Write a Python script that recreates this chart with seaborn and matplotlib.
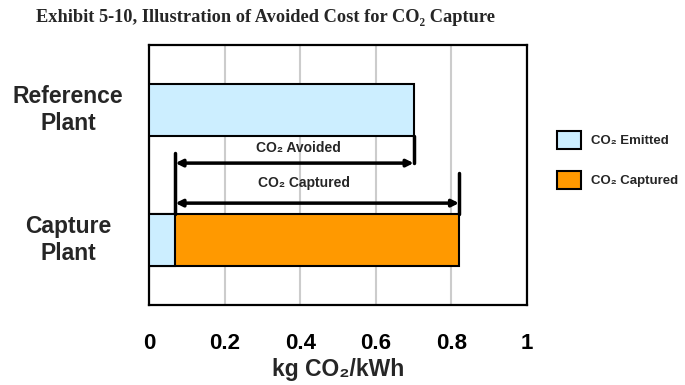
import pandas as pd
import seaborn as sns
import matplotlib.pyplot as plt
from matplotlib.patches import Patch

# data
plants = ['Reference\nPlant', 'Capture\nPlant']
plant_pos = [0.75, 0.25]
co2_emitted = [0.70, 0.07]
co2_total = [0.0, 0.82]   # emitted + captured (capture plant only)
x_ticks = [0, 0.2, 0.4, 0.6, 0.8, 1]

emit_color = '#cceeff'
capt_color = '#ff9900'

sns.set_style('white')
plt.rcParams['font.family'] = ['Liberation Sans', 'DejaVu Sans']
plt.rcParams['font.weight'] = 'bold'

fig = plt.figure(figsize=(6.85, 3.85), dpi=100)
ax = fig.add_axes([0.2175, 0.2078, 0.552, 0.675])

df_tot = pd.DataFrame({'pos': plant_pos, 'val': co2_total})
df_emit = pd.DataFrame({'pos': plant_pos, 'val': co2_emitted})

sns.barplot(data=df_tot, x='val', y='pos', orient='y', native_scale=True,
            width=0.4, color=capt_color, saturation=1, edgecolor='black',
            linewidth=1.5, ax=ax, zorder=3)
sns.barplot(data=df_emit, x='val', y='pos', orient='y', native_scale=True,
            width=0.4, color=emit_color, saturation=1, edgecolor='black',
            linewidth=1.5, ax=ax, zorder=3)

ax.set_xlim(0, 1)
ax.set_ylim(0, 1)
ax.set_xticks(x_ticks)
ax.set_xticklabels(['0', '0.2', '0.4', '0.6', '0.8', '1'], fontsize=16, fontweight='bold')
ax.set_yticks([0, 0.5, 1])
ax.set_yticklabels([])
ax.set_ylabel('')
ax.set_xlabel('kg CO₂/kWh', fontsize=16.5, fontweight='bold', labelpad=3)
ax.xaxis.grid(True, color='#cccccc', linewidth=1.5, zorder=0)
ax.set_axisbelow(True)
for s in ax.spines.values():
    s.set_color('black')
    s.set_linewidth(1.6)
ax.tick_params(axis='x', direction='inout', length=12, width=1.6, pad=14, colors='black')
ax.tick_params(axis='y', direction='out', length=8, width=1.6, colors='black')

for name, p in zip(plants, plant_pos):
    ax.text(-0.214, p, name, transform=ax.get_yaxis_transform(), ha='center',
            va='center', fontsize=16.5, fontweight='bold', linespacing=1.2)

# avoided / captured markers
lw = 2.5
ax.plot([0.70, 0.70], [0.65, 0.546], color='black', lw=lw, zorder=4)
ax.plot([co2_emitted[1]] * 2, [0.585, 0.35], color='black', lw=lw, zorder=4)
ax.plot([co2_total[1]] * 2, [0.508, 0.35], color='black', lw=lw, zorder=4)
arrow = dict(arrowstyle='<|-|>', color='black', lw=lw, shrinkA=0, shrinkB=0,
             mutation_scale=10)
ax.annotate('', xy=(0.70, 0.546), xytext=(co2_emitted[1], 0.546), arrowprops=arrow, zorder=5)
ax.annotate('', xy=(co2_total[1], 0.392), xytext=(co2_emitted[1], 0.392), arrowprops=arrow, zorder=5)
ax.text(0.394, 0.604, 'CO₂ Avoided', ha='center', va='center', fontsize=10, fontweight='bold')
ax.text(0.41, 0.47, 'CO₂ Captured', ha='center', va='center', fontsize=10, fontweight='bold')

fig.text(0.388, 0.955, 'Exhibit 5-10, Illustration of Avoided Cost for CO₂ Capture',
         ha='center', va='center', fontsize=13.2, fontweight='bold',
         family=['Liberation Serif', 'DejaVu Serif'])

handles = [Patch(facecolor=emit_color, edgecolor='black', linewidth=1.5, label='CO₂ Emitted'),
           Patch(facecolor=capt_color, edgecolor='black', linewidth=1.5, label='CO₂ Captured')]
fig.legend(handles=handles, loc='upper left', bbox_to_anchor=(0.813, 0.66),
           frameon=False, handlelength=1.8, handleheight=1.7,
           labelspacing=1.7, handletextpad=0.8, borderpad=0, borderaxespad=0,
           prop={'weight': 'bold', 'size': 9.5})

fig.savefig('out.png', dpi=100)
